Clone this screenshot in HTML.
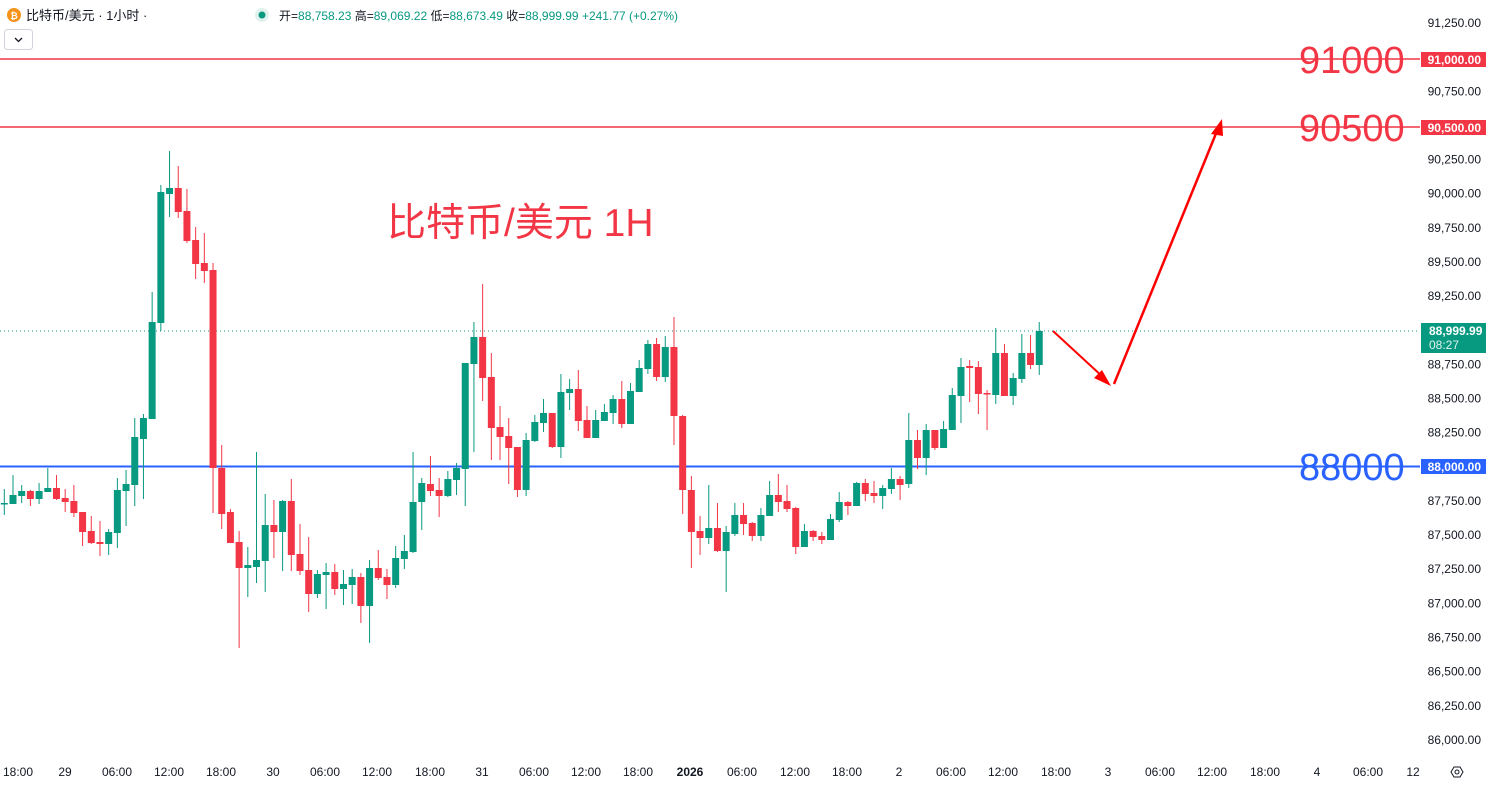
<!DOCTYPE html>
<html><head><meta charset="utf-8"><style>
html,body{margin:0;padding:0;background:#fff;width:1491px;height:786px;overflow:hidden}
svg text{font-family:"Liberation Sans","Noto Sans CJK SC",sans-serif}
</style></head><body>
<svg id="c" width="1491" height="786" xmlns="http://www.w3.org/2000/svg">
<rect width="1491" height="786" fill="#fff"/>
<!-- lines -->
<line x1="0" y1="59" x2="1420" y2="59" stroke="#f23645" stroke-width="1.5"/>
<line x1="0" y1="127" x2="1420" y2="127" stroke="#f23645" stroke-width="1.5"/>
<line x1="0" y1="466.5" x2="1420" y2="466.5" stroke="#2962ff" stroke-width="2"/>
<line x1="0" y1="331" x2="1420" y2="331" stroke="#089981" stroke-width="1" stroke-dasharray="1,3"/>
<g id="cs"></g>
<!-- arrows -->
<line x1="1053" y1="331" x2="1104" y2="378" stroke="#ff0000" stroke-width="2"/>
<polygon points="1111,386 1094,378 1102,370" fill="#ff0000"/>
<line x1="1114" y1="384" x2="1217" y2="131" stroke="#ff0000" stroke-width="2.5"/>
<polygon points="1222,119 1211,134 1223,136" fill="#ff0000"/>
<text x="387" y="236" font-size="39" fill="#f23645">比特币/美元 1H</text>
<text x="1299" y="73" font-size="38" fill="#f23645">91000</text>
<text x="1299" y="141" font-size="38" fill="#f23645">90500</text>
<text x="1299" y="480" font-size="38" fill="#2962ff">88000</text>
<!-- axis labels -->
<g id="ax" font-size="12" fill="#131722" text-anchor="end"></g>
<rect x="1421" y="52" width="65" height="15" fill="#f23645"/>
<text x="1481" y="64" font-size="12" fill="#fff" text-anchor="end" font-weight="bold">91,000.00</text>
<rect x="1421" y="120" width="65" height="15" fill="#f23645"/>
<text x="1481" y="132" font-size="12" fill="#fff" text-anchor="end" font-weight="bold">90,500.00</text>
<rect x="1421" y="323" width="65" height="30" fill="#089981"/>
<text x="1429" y="335" font-size="12" fill="#fff" font-weight="bold">88,999.99</text>
<text x="1429" y="349" font-size="12" fill="#e0f2ee">08:27</text>
<rect x="1421" y="459" width="65" height="15" fill="#2962ff"/>
<text x="1481" y="471" font-size="12" fill="#fff" text-anchor="end" font-weight="bold">88,000.00</text>
<g id="tx" font-size="12" fill="#131722" text-anchor="middle"></g>
<!-- gear -->
<polygon points="1451,772 1454,767 1460,767 1463,772 1460,777 1454,777" fill="none" stroke="#131722" stroke-width="1"/>
<circle cx="1457" cy="772" r="2" fill="none" stroke="#131722"/>
<!-- header -->
<circle cx="14" cy="15" r="7" fill="#f7931a"/>
<text x="14" y="19" font-size="9" fill="#fff" text-anchor="middle" font-weight="bold">₿</text>
<text x="26" y="20" font-size="13" fill="#131722">比特币/美元 · 1小时 ·</text>
<circle cx="262" cy="15" r="7" fill="#e0f2ee"/>
<circle cx="262" cy="15" r="3.5" fill="#089981"/>
<text x="279" y="20" font-size="12" fill="#131722">开=<tspan fill="#089981">88,758.23</tspan> 高=<tspan fill="#089981">89,069.22</tspan> 低=<tspan fill="#089981">88,673.49</tspan> 收=<tspan fill="#089981">88,999.99</tspan> <tspan fill="#089981">+241.77 (+0.27%)</tspan></text>
<rect x="4.5" y="29.5" width="28" height="20" rx="3" fill="#fff" stroke="#d1d4dc"/>
<polyline points="15,38 18.5,41.5 22,38" fill="none" stroke="#131722" stroke-width="1.3"/>
</svg>
<script>
var d=[
"g503,503,489,515","g495,504,475,504","g491,496,485,503","r491,499,490,506","g491,499,483,504","g488,492,468,492","r488,499,475,500","r498,502,489,512","r501,513,485,517","r512,532,512,546",
"r531,543,516,544","r542,544,521,556","g532,544,529,555","g490,533,478,548","g484,491,470,526","g437,485,418,506","g418,439,414,499","g322,419,292,419","g192,323,185,331","g188,194,151,217",
"r188,212,166,218","r211,241,189,243","r240,264,227,279","r263,271,233,283","r270,468,263,513","r468,514,445,529","r512,543,509,543","r542,568,531,648","g565,568,547,597","g560,567,452,583",
"g525,561,494,592","r525,532,500,558","g501,532,500,571","r501,555,479,571","r554,571,524,575","r570,594,537,612","g574,594,570,598","g572,575,563,609","r572,589,564,595","g584,589,570,605",
"g577,585,569,604","r577,606,573,623","g568,606,560,643","r568,578,550,580","r577,585,569,599","g558,585,546,588","g551,559,535,569","g502,552,452,553","g483,502,478,530","r484,491,456,496",
"r490,496,478,517","g479,496,471,497","g468,480,463,495","g363,469,363,506","g337,364,322,452","r337,378,284,401","r377,428,353,460","r427,437,406,460","r436,448,418,484","r447,490,447,497",
"g440,490,433,496","g422,441,415,442","g413,423,399,432","r413,447,413,448","g392,447,374,458","g389,393,379,410","r389,421,370,431","r420,438,406,438","g420,438,410,438","g412,421,404,421",
"g399,413,395,424","r399,424,381,428","g391,424,383,424","g368,392,360,392","g344,369,340,374","r344,377,338,381","g347,377,336,382","r347,416,317,445","r416,490,415,514","r490,532,476,568",
"r531,538,516,555","g528,538,485,544","r528,551,503,552","g532,551,526,592","g515,534,503,536","r515,524,503,535","r523,536,522,541","g515,536,508,541","g495,516,481,516","r495,502,474,512",
"r501,509,485,512","r508,547,507,554","g531,547,524,547","r531,537,530,541","r536,540,532,544","g519,540,514,540","g502,520,492,522","r502,506,501,515","g483,506,482,506","r483,494,479,501",
"r493,496,481,503","g488,496,485,509","g479,489,468,494","r479,485,476,500","g440,484,413,488","r440,458,430,469","g430,458,424,475","r430,448,430,450","g429,448,421,448","g395,430,388,430",
"g367,396,358,423","r366,368,360,402","r367,394,361,414","r393,394,390,430","g353,395,328,404","r353,396,344,396","g378,396,373,405","g353,379,334,383","r353,365,335,369","g331,365,322,375"];
var s="";
d.forEach(function(e,i){var c=e[0]=="g"?"#089981":"#f23645";var v=e.slice(1).split(",").map(Number);var x=4.3+i*8.697;
var h=Math.max(v[1]-v[0],1.5);
s+='<rect x="'+(x-0.5)+'" y="'+v[2]+'" width="1" height="'+(v[3]-v[2])+'" fill="'+c+'"/>';
s+='<rect x="'+(x-3.5)+'" y="'+v[0]+'" width="7" height="'+h+'" fill="'+c+'"/>';});
document.getElementById("cs").innerHTML=s;
var a="";
for(var k=0;k<=21;k++){var p=91250-k*250;var y=23+k*34.14;if(p==91000||p==90500||p==88000)continue;
var t=p.toString().replace(/(\d\d)(\d\d\d)$/,"$1,$2")+".00";a+='<text x="1481" y="'+(y+4)+'">'+t+'</text>';}
document.getElementById("ax").innerHTML=a;
var L=[[18,"18:00"],[65,"29"],[117,"06:00"],[169,"12:00"],[221,"18:00"],[273,"30"],[325,"06:00"],[377,"12:00"],[430,"18:00"],[482,"31"],[534,"06:00"],[586,"12:00"],[638,"18:00"],[690,"2026"],[742,"06:00"],[795,"12:00"],[847,"18:00"],[899,"2"],[951,"06:00"],[1003,"12:00"],[1056,"18:00"],[1108,"3"],[1160,"06:00"],[1212,"12:00"],[1265,"18:00"],[1317,"4"],[1368,"06:00"],[1413,"12"]];
var b="";L.forEach(function(l){b+='<text x="'+l[0]+'" y="776"'+(l[1]=="2026"?' font-weight="bold"':'')+'>'+l[1]+'</text>';});
document.getElementById("tx").innerHTML=b;
</script>
</body></html>
